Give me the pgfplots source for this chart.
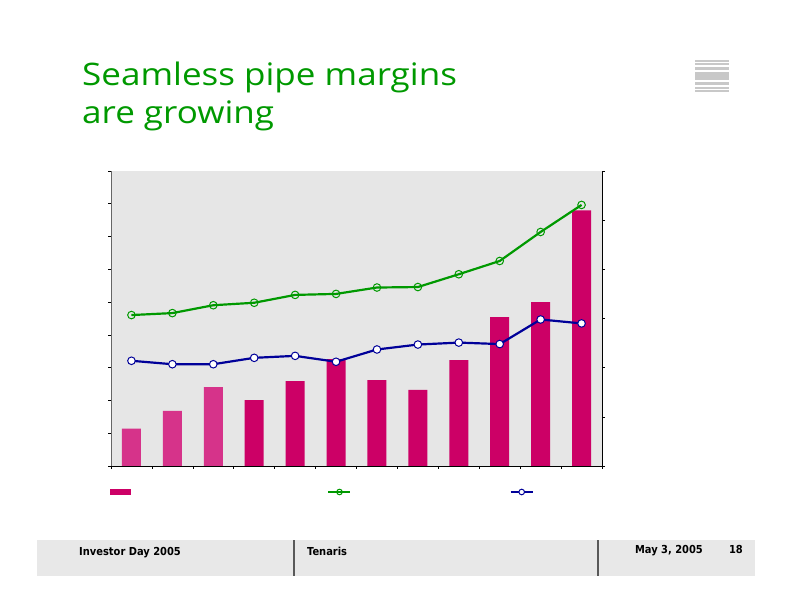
\documentclass[border=0pt]{standalone}
\usepackage{pgfplots}
\pgfplotsset{compat=1.18}
\usepackage{fontspec}
\setmainfont{Open Sans}
\newfontfamily\titlefont{Open Sans}[FakeStretch=1.13]
\newfontfamily\footfont{DejaVu Sans Condensed}

\definecolor{titlegreen}{HTML}{009900}
\definecolor{plotgray}{HTML}{E6E6E6}
\definecolor{footgray}{HTML}{E8E8E8}
\definecolor{barlight}{HTML}{D6338A}
\definecolor{barmag}{HTML}{CC0066}
\definecolor{linegreen}{HTML}{009900}
\definecolor{lineblue}{HTML}{000099}
\definecolor{icongray}{HTML}{C8C8C8}

\begin{document}
\begin{tikzpicture}
\path[use as bounding box, fill=white] (0,0) rectangle (792bp,612bp);

% title
\node[anchor=base west, inner sep=0pt, text=titlegreen, font=\titlefont\fontsize{31bp}{36bp}\selectfont]
  at (82bp,526bp) {Seamless pipe margins};
\node[anchor=base west, inner sep=0pt, text=titlegreen, font=\titlefont\fontsize{31bp}{36bp}\selectfont]
  at (82bp,488bp) {are growing};

% logo stripes
\foreach \a/\b in {60/62,63.3/64.8,66.7/70,71.7/80,81.7/85,86.7/88.7,90.3/92}
  \fill[icongray] (695bp,612bp-\b bp) rectangle (729bp,612bp-\a bp);

% footer
\fill[footgray] (37bp,36bp) rectangle (755bp,72bp);
\draw[black!65, line width=1.5pt] (294bp,36bp) -- (294bp,72bp);
\draw[black!65, line width=1.5pt] (598bp,36bp) -- (598bp,72bp);
\node[anchor=base west, inner sep=0pt, font=\footfont\bfseries\fontsize{11bp}{12bp}\selectfont]
  at (79bp,56bp) {Investor Day 2005};
\node[anchor=base west, inner sep=0pt, font=\footfont\bfseries\fontsize{11bp}{12bp}\selectfont]
  at (307bp,56bp) {Tenaris};
\node[anchor=base east, inner sep=0pt, font=\footfont\bfseries\fontsize{11bp}{12bp}\selectfont]
  at (703bp,58bp) {May 3, 2005};
\node[anchor=base east, inner sep=0pt, font=\footfont\bfseries\fontsize{11bp}{12bp}\selectfont]
  at (743bp,58bp) {18};

% bars, left axis
\begin{axis}[
    at={(111bp,146bp)}, anchor=south west,
    width=491bp, height=295bp, scale only axis,
    xmin=0.5, xmax=12.5, ymin=0, ymax=9,
    axis x line*=bottom, axis y line*=left,
    axis background/.style={fill=plotgray},
    xtick={0.5,1.5,...,12.5}, ytick={0,1,...,9},
    xticklabels={}, yticklabels={},
    tick align=outside, major tick length=3bp,
    tick style={black, line width=0.6pt},
    x axis line style={black, line width=0.8pt, -},
    y axis line style={black!60, line width=0.8pt, -},
    ybar, bar width=19bp, bar shift=0pt,
]
\addplot[fill=barlight, draw=none] coordinates {
    (1,1.14) (2,1.68) (3,2.41)
};
\addplot[fill=barmag, draw=none] coordinates {
    (4,2.01) (5,2.59) (6,3.26) (7,2.62) (8,2.32)
    (9,3.23) (10,4.54) (11,5.00) (12,7.80)
};
\end{axis}

% margin lines, right axis
\begin{axis}[
    at={(111bp,146bp)}, anchor=south west,
    width=491bp, height=295bp, scale only axis,
    xmin=0.5, xmax=12.5, ymin=0, ymax=6,
    axis x line=none, axis y line*=right,
    ytick={0,1,...,6}, yticklabels={},
    tick align=outside, major tick length=3bp,
    tick style={black, line width=0.6pt},
    y axis line style={black, line width=0.8pt, -},
    legend image code/.code={\draw[#1] (0bp,0bp) -- (22bp,0bp);
        \draw[#1, mark size=2.8bp] plot coordinates {(11bp,0bp)};},
    legend columns=3,
    legend style={at={(0,0)}, anchor=west, yshift=-26bp, xshift=-1bp,
        draw=none, fill=none, inner sep=0pt, outer sep=0pt,
        nodes={inner sep=0pt},
        /tikz/every even column/.append style={column sep=0pt}},
    legend cell align=left,
]
\addlegendimage{legend image code/.code={\fill[barmag] (0bp,-2.5bp) rectangle (20bp,2.5bp);}}
\addlegendentry{\hspace*{197bp}}

\addplot[color=linegreen, line width=2.2pt, mark=o, mark size=3.8bp,
    mark options={fill=plotgray, line width=1pt}]
coordinates {
    (1,3.07) (2,3.11) (3,3.27) (4,3.32) (5,3.48) (6,3.50)
    (7,3.63) (8,3.64) (9,3.90) (10,4.17) (11,4.76) (12,5.31)
};
\addlegendentry{\hspace*{158bp}}

\addplot[color=lineblue, line width=2.2pt, mark=*, mark size=3.8bp,
    mark options={fill=white, line width=1pt}]
coordinates {
    (1,2.14) (2,2.07) (3,2.07) (4,2.20) (5,2.24) (6,2.12)
    (7,2.37) (8,2.47) (9,2.51) (10,2.48) (11,2.98) (12,2.90)
};
\addlegendentry{}
\end{axis}
\end{tikzpicture}
\end{document}
